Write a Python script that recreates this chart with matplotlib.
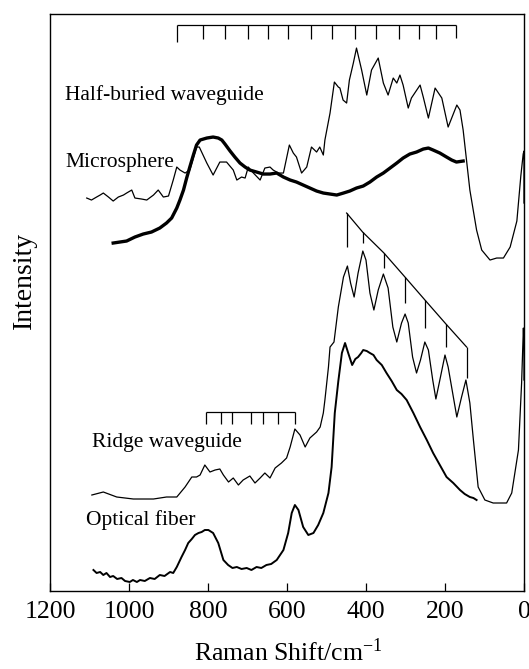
import matplotlib
matplotlib.use("Agg")
import matplotlib.pyplot as plt
import numpy as np

plt.rcParams['font.family'] = ['Liberation Serif', 'DejaVu Serif']
plt.rcParams['mathtext.fontset'] = 'stix'

# Raman shift (cm-1) / intensity (a.u.)
half_x = [1107, 1095, 1082, 1073, 1065, 1052, 1040, 1027, 1014, 1006, 993, 985,
          968, 955, 938, 926, 913, 900, 888, 879, 871, 858, 846, 829, 822, 803,
          787, 770, 753, 736, 727, 715, 706, 698, 685, 668, 656, 643, 635, 622,
          609, 594, 584, 576, 563, 550, 538, 525, 517, 508, 504, 491, 480, 470,
          466, 458, 449, 442, 432, 424, 411, 398, 386, 369, 356, 344, 331, 322,
          314, 306, 293, 285, 263, 255, 242, 225, 208, 192, 170, 162, 154, 137,
          120, 107, 86, 69, 52, 35, 18, 8, 2, 0, 0]
half_y = [393, 391, 394, 396, 398, 394, 390, 394, 396, 398, 401, 393,
          392, 391, 396, 401, 394, 395, 411, 424, 421, 418, 421, 444, 444, 428,
          416, 429, 429, 421, 411, 414, 413, 424, 418, 411, 423, 424, 421, 418,
          418, 446, 438, 434, 418, 424, 444, 439, 444, 436, 451, 478, 509, 504,
          503, 491, 488, 511, 528, 543, 521, 496, 521, 533, 508, 496, 513, 508,
          516, 506, 483, 493, 506, 494, 473, 503, 493, 464, 486, 481, 461, 401,
          361, 341, 331, 333, 333, 344, 370, 415, 437, 440, 388]

micro_x = [1040, 1023, 1006, 985, 964, 943, 922, 905, 892, 879, 871, 862, 854,
           846, 837, 829, 820, 803, 787, 774, 765, 757, 744, 732, 719, 706, 694,
           677, 660, 643, 626, 609, 592, 576, 559, 542, 525, 508, 491, 474, 457,
           441, 424, 407, 390, 373, 356, 339, 322, 306, 289, 272, 255, 242, 230,
           213, 196, 183, 171, 154]
micro_y = [348, 349, 350, 354, 357, 359, 363, 368, 373, 383, 391, 401, 413,
           424, 436, 446, 451, 453, 454, 453, 451, 447, 440, 434, 428, 424, 421,
           419, 417, 417, 418, 414, 411, 409, 406, 403, 400, 398, 397, 396, 398,
           400, 403, 405, 409, 414, 418, 423, 428, 433, 437, 439, 442, 443, 441,
           438, 434, 431, 429, 430]

ridge_x = [1094, 1065, 1031, 989, 938, 905, 879, 858, 841, 829, 820, 808, 795,
           782, 770, 761, 748, 736, 723, 711, 694, 681, 668, 656, 643, 630, 614,
           601, 592, 580, 567, 554, 542, 525, 516, 508, 504, 495, 491, 481, 470,
           457, 447, 439, 430, 420, 408, 400, 390, 380, 369, 356, 344, 332, 322,
           310, 301, 293, 282, 272, 262, 251, 242, 231, 223, 213, 200, 192, 170,
           158, 147, 137, 128, 116, 99, 78, 44, 31, 14, 6, 1.5, 0, 0]
ridge_y = [96, 99, 94, 92, 92, 94, 94, 104, 114, 114, 116, 126, 119,
           121, 122, 116, 109, 113, 106, 111, 115, 108, 113, 118, 113, 123, 128,
           133, 144, 162, 156, 144, 153, 159, 164, 178, 191, 224, 244, 249, 284,
           314, 325, 308, 294, 318, 340, 331, 298, 281, 301, 317, 303, 264, 249,
           268, 277, 268, 234, 218, 231, 249, 241, 211, 192, 211, 236, 224, 174,
           194, 211, 188, 151, 104, 91, 88, 88, 98, 141, 208, 263, 244, 211]

fiber_x = [1090, 1082, 1073, 1065, 1057, 1048, 1040, 1030, 1019, 1010, 998, 990,
           980, 972, 960, 947, 935, 922, 910, 896, 888, 879, 867, 858, 850, 841,
           833, 824, 816, 808, 799, 787, 774, 761, 749, 738, 727, 715, 702, 690,
           677, 665, 652, 640, 626, 609, 597, 588, 580, 571, 559, 546, 533, 521,
           508, 495, 487, 479, 470, 461, 453, 445, 435, 427, 420, 412, 407, 398,
           390, 381, 373, 360, 348, 335, 322, 310, 297, 280, 263, 246, 230, 213,
           196, 179, 162, 150, 137, 128, 120]
fiber_y = [21, 18, 19, 16, 18, 14, 15, 12, 13, 10, 9, 11,
           9, 11, 10, 13, 12, 16, 15, 19, 18, 24, 34, 41, 48, 52,
           56, 58, 59, 61, 61, 58, 48, 31, 26, 23, 24, 22, 23, 21,
           24, 23, 26, 27, 31, 41, 58, 78, 86, 81, 64, 56, 58, 66,
           78, 98, 124, 178, 210, 238, 248, 238, 226, 232, 234, 238, 241, 240,
           238, 236, 231, 226, 218, 210, 201, 197, 191, 178, 164, 151, 138, 126,
           114, 108, 101, 97, 94, 93, 91]

# peak markers
comb_top_x = [878, 813, 758, 698, 647, 598, 538, 487, 429, 375, 316, 265, 223, 172]
comb_top_y = 566
comb_top_end = [549, 552, 552, 552, 552, 552, 552, 552, 552, 552, 552, 552, 552, 553]

comb_ridge_x = [806, 766, 738, 692, 660, 623, 580]
comb_ridge_y = 179
comb_ridge_end = 167

tri_x = [449, 408.5, 354.5, 301.3, 250.7, 197.5, 145.2]
tri_top = [378, 359, 338, 314, 291, 267, 244]
tri_end = [344, 348, 323, 288, 263, 244, 213]

labels = ['Half-buried waveguide', 'Microsphere', 'Ridge waveguide', 'Optical fiber']
label_x = [1162, 1162, 1094, 1109]
label_y = [496, 429, 149, 71]

fig = plt.figure(figsize=(5.29, 6.69), dpi=100)
ax = fig.add_axes([0.0945, 0.1166, 0.896, 0.8624])

ax.plot(half_x, half_y, color='k', lw=0.9)
ax.plot(micro_x, micro_y, color='k', lw=2.4)
ax.plot(ridge_x, ridge_y, color='k', lw=0.9)
ax.plot(fiber_x, fiber_y, color='k', lw=1.4)

ax.hlines(comb_top_y, comb_top_x[0], comb_top_x[-1], color='k', lw=0.9)
ax.vlines(comb_top_x, comb_top_end, comb_top_y, color='k', lw=0.9)
ax.hlines(comb_ridge_y, comb_ridge_x[0], comb_ridge_x[-1], color='k', lw=0.9)
ax.vlines(comb_ridge_x, comb_ridge_end, comb_ridge_y, color='k', lw=0.9)
ax.plot(tri_x, tri_top, color='k', lw=0.9)
ax.vlines(tri_x, tri_end, tri_top, color='k', lw=0.9)

for t, x, y in zip(labels, label_x, label_y):
    ax.text(x, y, t, fontsize=15.5, ha='left', va='center')

ax.set_xlim(1200, 0)
ax.set_ylim(0, 577)
ax.set_xticks([1200, 1000, 800, 600, 400, 200, 0])
ax.set_yticks([])
ax.tick_params(axis='x', direction='in', length=6, width=0.9, labelsize=18.5, pad=7)
for s in ax.spines.values():
    s.set_linewidth(1.0)

fig.text(0.047, 0.5815, 'Intensity', rotation=90, ha='center', va='center', fontsize=20)
fig.text(0.545, 0.026, 'Raman Shift/cm$^{\\mathregular{-1}}$', ha='center', va='center', fontsize=18.5)

fig.savefig('out.png', dpi=100)
